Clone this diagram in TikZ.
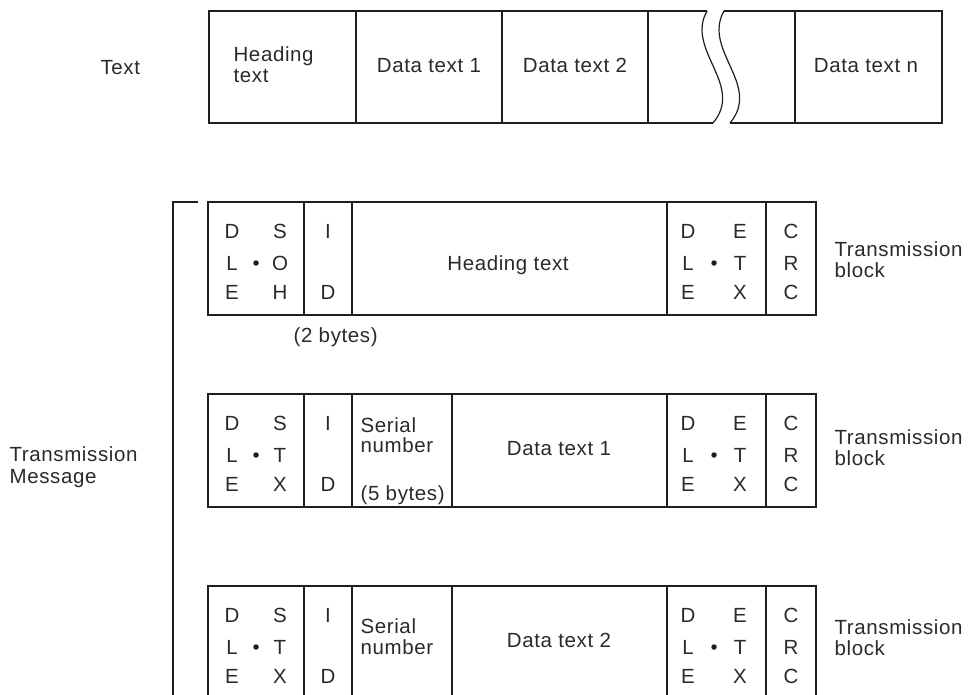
\documentclass[tikz,border=0pt]{standalone}
\usepackage{fontspec}
\setmainfont[LetterSpace=3]{Liberation Sans}
\newcommand\fsz{\fontsize{20.5}{21}\selectfont}
\definecolor{ink}{HTML}{1E1E1E}
\definecolor{txt}{HTML}{2A2A2A}
\begin{document}
\begin{tikzpicture}[x=1pt,y=-1pt, line width=1.2pt, draw=ink,
  lab/.style={inner sep=0pt, font=\fsz, text=txt},
  bw/.style={lab, anchor=base west},
  bc/.style={lab, anchor=base},
  dotm/.style={circle, fill=ink, draw=none, inner sep=0pt, minimum size=5.5pt}]
\useasboundingbox (0,0) rectangle (971,695);

% ---------- top row ----------
\node[bw] (txtlab) at (100,75) {Text};
\draw (707,11) -- (209,11) -- (209,123) -- (713,123);
\draw (724,11) -- (942,11) -- (942,123) -- (730,123);
\foreach \x in {356,502,648,795} \draw (\x,11) -- (\x,123);
\draw (707,11) .. controls (685,50) and (745,85) .. (713,123);
\draw (724,11) .. controls (702,50) and (762,85) .. (730,123);
\node[bw] (h1) at (233,62) {Heading};
\node[bw] (h2) at (233,83) {text};
\node[bc] (d1) at (429,73) {Data text 1};
\node[bc] (d2) at (575,73) {Data text 2};
\node[bc] (dn) at (866,73) {Data text n};

% ---------- bracket ----------
\coordinate (bt) at (198,202);
\coordinate (bc1) at (173,202);
\coordinate (bb) at (173,700);
\draw (bt) -- (bc1) -- (bb);
\node[bw] (tm1) at (9,461) {Transmission};
\node[bw] (tm2) at (9,483) {Message};

% ---------- blocks ----------
\foreach \T/\B/\a/\b/\c/\n in {202/315/S/O/H/1, 394/507/S/T/X/2, 586/720/S/T/X/3}{
  \draw (208,\T) rectangle (816,\B);
  \foreach \x in {304,352,667,766} \draw (\x,\T) -- (\x,\B);
  % left DLE / SOH-STX
  \node[bc] (lD\n) at (232,\T+36) {D};
  \node[bc] (lL\n) at (232,\T+68) {L};
  \node[bc] (lE\n) at (232,\T+97) {E};
  \node[bc] (la\n) at (280,\T+36) {\a};
  \node[bc] (lb\n) at (280,\T+68) {\b};
  \node[bc] (lc\n) at (280,\T+97) {\c};
  \node[dotm] (ld\n) at (256,\T+61) {};
  % ID
  \node[bc] (iI\n) at (328,\T+36) {I};
  \node[bc] (iD\n) at (328,\T+97) {D};
  % right DLE / ETX
  \node[bc] (rD\n) at (688,\T+36) {D};
  \node[bc] (rL\n) at (688,\T+68) {L};
  \node[bc] (rE\n) at (688,\T+97) {E};
  \node[bc] (re\n) at (740,\T+36) {E};
  \node[bc] (rt\n) at (740,\T+68) {T};
  \node[bc] (rx\n) at (740,\T+97) {X};
  \node[dotm] (rd\n) at (714,\T+61) {};
  % CRC
  \node[bc] (c1\n) at (791,\T+36) {C};
  \node[bc] (c2\n) at (791,\T+68) {R};
  \node[bc] (c3\n) at (791,\T+97) {C};
}
\draw (452,394) -- (452,507);
\draw (452,586) -- (452,720);

% block 1 contents
\node[bc] (ht) at (508,270) {Heading text};
\node[bw] (tb1a) at (834,256) {Transmission};
\node[bw] (tb1b) at (834,277) {block};
\node[bw] (two) at (293,342) {(2 bytes)};

% block 2 contents
\node[bw] (s2a) at (360,432) {Serial};
\node[bw] (s2b) at (360,452) {number};
\node[bw] (s2c) at (360,500) {(5 bytes)};
\node[bc] (dt1) at (559,455) {Data text 1};
\node[bw] (tb2a) at (834,444) {Transmission};
\node[bw] (tb2b) at (834,465) {block};

% block 3 contents
\node[bw] (s3a) at (360,633) {Serial};
\node[bw] (s3b) at (360,654) {number};
\node[bc] (dt2) at (559,647) {Data text 2};
\node[bw] (tb3a) at (834,634) {Transmission};
\node[bw] (tb3b) at (834,655) {block};
\end{tikzpicture}
\end{document}
